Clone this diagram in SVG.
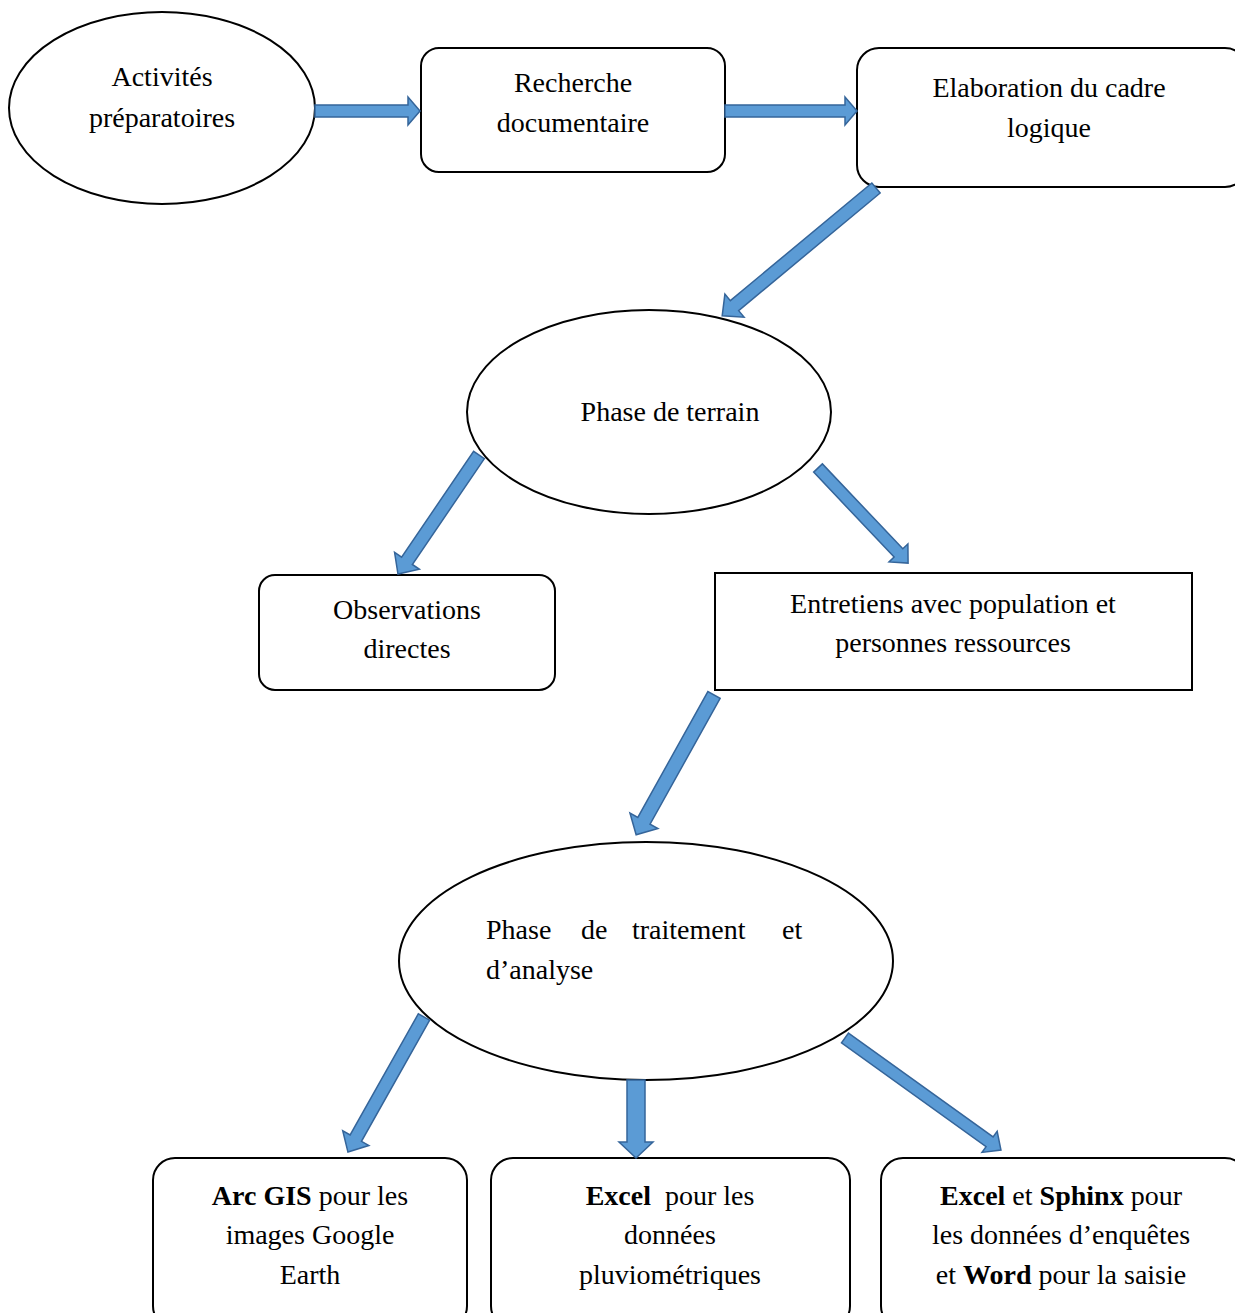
<svg xmlns="http://www.w3.org/2000/svg" width="1235" height="1313" viewBox="0 0 1235 1313">
<style>
.n{fill:#fff;stroke:#000;stroke-width:2}
.t{font-family:"Liberation Serif","Times New Roman",serif;font-size:28px;fill:#000;text-anchor:middle}
.tl{font-family:"Liberation Serif","Times New Roman",serif;font-size:28px;fill:#000}
.b{font-weight:bold}
.a{fill:#5B9BD5;stroke:#35659A;stroke-width:1.5;stroke-linejoin:miter}
</style>
<rect width="1235" height="1313" fill="#fff"/>
<g id="n1"><ellipse class="n" cx="162" cy="108" rx="153" ry="96"/>
<text class="t" x="162" y="86">Activités</text><text class="t" x="162" y="127">préparatoires</text></g>
<g id="n2"><rect class="n" x="421" y="48" width="304" height="124" rx="18"/>
<text class="t" x="573" y="92">Recherche</text><text class="t" x="573" y="132">documentaire</text></g>
<g id="n3"><rect class="n" x="857" y="48" width="390" height="139" rx="22"/>
<text class="t" x="1049" y="97">Elaboration du cadre</text><text class="t" x="1049" y="137">logique</text></g>
<g id="n4"><ellipse class="n" cx="649" cy="412" rx="182" ry="102"/>
<text class="t" x="670" y="421">Phase de terrain</text></g>
<g id="n5"><rect class="n" x="259" y="575" width="296" height="115" rx="16"/>
<text class="t" x="407" y="619">Observations</text><text class="t" x="407" y="658">directes</text></g>
<g id="n6"><rect class="n" x="715" y="573" width="477" height="117"/>
<text class="t" x="953" y="613">Entretiens avec population et</text><text class="t" x="953" y="652">personnes ressources</text></g>
<g id="n7"><ellipse class="n" cx="646" cy="961" rx="247" ry="119"/>
<text class="tl" y="939"><tspan x="486">Phase</tspan> <tspan x="581">de</tspan> <tspan x="632">traitement</tspan> <tspan x="782">et</tspan></text><text class="tl" x="486" y="979">d’analyse</text></g>
<g id="n8"><rect class="n" x="153" y="1158" width="314" height="170" rx="22"/>
<text class="t" x="310" y="1205"><tspan class="b">Arc GIS</tspan> pour les</text><text class="t" x="310" y="1244">images Google</text><text class="t" x="310" y="1284">Earth</text></g>
<g id="n9"><rect class="n" x="491" y="1158" width="359" height="170" rx="22"/>
<text class="t" x="670" y="1205" xml:space="preserve"><tspan class="b">Excel</tspan>  pour les</text><text class="t" x="670" y="1244">données</text><text class="t" x="670" y="1284">pluviométriques</text></g>
<g id="n10"><rect class="n" x="881" y="1158" width="366" height="170" rx="22"/>
<text class="t" x="1061" y="1205"><tspan class="b">Excel</tspan> et <tspan class="b">Sphinx</tspan> pour</text><text class="t" x="1061" y="1244">les données d’enquêtes</text><text class="t" x="1061" y="1284">et <tspan class="b">Word</tspan> pour la saisie</text></g>
<g id="connectors">
<polygon class="a" points="0,-6 93,-6 93,-14 105,0 93,14 93,6 0,6" transform="translate(315,111)"/>
<polygon class="a" points="0,-6 120,-6 120,-14 132,0 120,14 120,6 0,6" transform="translate(725,111)"/>
<polygon class="a" points="0,-6.5 184,-6.5 184,-15 200,0 184,15 184,6.5 0,6.5" transform="translate(876,188) rotate(140.27)"/>
<polygon class="a" points="0,-6.5 128,-6.5 128,-15 144,0 128,15 128,6.5 0,6.5" transform="translate(479,455) rotate(124.24)"/>
<polygon class="a" points="0,-6 117,-6 117,-13 131,0 117,13 117,6 0,6" transform="translate(818,468) rotate(46.55)"/>
<polygon class="a" points="0,-7 144,-7 144,-16 160,0 144,16 144,7 0,7" transform="translate(714,695) rotate(119.12)"/>
<polygon class="a" points="0,-6.5 139,-6.5 139,-15 155,0 139,15 139,6.5 0,6.5" transform="translate(424,1017) rotate(119.38)"/>
<polygon class="a" points="0,-9 62,-9 62,-17 78,0 62,17 62,9 0,9" transform="translate(636,1080) rotate(90)"/>
<polygon class="a" points="0,-6 178,-6 178,-13 192,0 178,13 178,6 0,6" transform="translate(845,1038) rotate(35.68)"/>
</g>
</svg>
